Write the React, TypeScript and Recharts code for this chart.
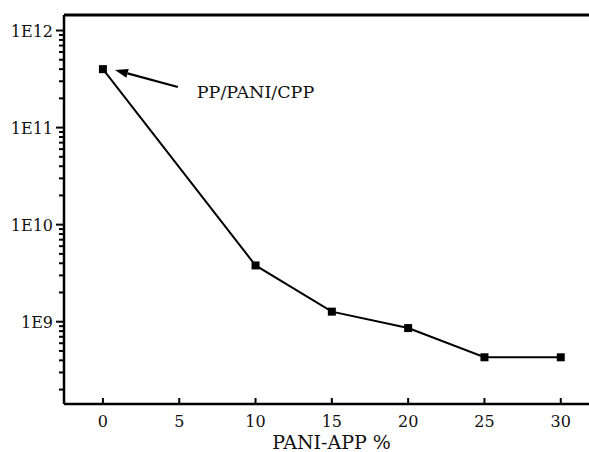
import React from 'react';
import {
  LineChart,
  Line,
  XAxis,
  YAxis,
  ReferenceLine,
} from 'recharts';

// PANI-APP content (%) vs. volume resistivity
const pani = [0, 10, 15, 20, 25, 30];
const resistivity = [4.0e11, 3.8e9, 1.27e9, 8.6e8, 4.3e8, 4.3e8];

const xTicks = [0, 5, 10, 15, 20, 25, 30];
const yMajor = [1e9, 1e10, 1e11, 1e12];
const yMajorLabels = ['1E9', '1E10', '1E11', '1E12'];
const yMinor = [8, 9, 10, 11].flatMap((p) => [2, 3, 4, 5, 6, 7, 8, 9].map((m) => m * 10 ** p));

const X_DOMAIN: [number, number] = [-2.55, 31.85];
const Y_DOMAIN: [number, number] = [1.42e8, 1.445e12];

// annotation arrow: tail near the label, head at the first point
const arrowTail = { x: 4.91, y: 2.62e11 };
const arrowHead = { x: 0.79, y: 3.92e11 };
const arrowText = 'PP/PANI/CPP';

const data = pani.map((x, i) => ({ x, r: resistivity[i] }));

const FONT = "'DejaVu Serif', serif";
const INK = '#111';
const serif = { fontFamily: FONT };

const YTick = (props: any) => {
  const { x, y, payload } = props;
  const idx = yMajor.indexOf(payload.value);
  const major = idx >= 0;
  return (
    <g>
      <line x1={x - (major ? 8 : 5)} y1={y} x2={x} y2={y} stroke="#000" strokeWidth={2} />
      {major && (
        <text x={x - 11} y={y} dy={6} textAnchor="end" fontSize={16} style={serif} fill={INK}>
          {yMajorLabels[idx]}
        </text>
      )}
    </g>
  );
};

const XTick = (props: any) => {
  const { x, y, payload } = props;
  return (
    <g>
      <line x1={x} y1={y} x2={x} y2={y - 6} stroke="#000" strokeWidth={2} />
      <text x={x} y={y + 23} textAnchor="middle" fontSize={16} style={serif} fill={INK}>
        {payload.value}
      </text>
    </g>
  );
};

const SquareDot = (props: any) => {
  const { cx, cy } = props;
  if (cx == null || cy == null) return null;
  return <rect x={cx - 4} y={cy - 4} width={8} height={8} fill="#000" />;
};

const Arrow = (props: any) => {
  const { x1, y1, x2, y2 } = props;
  const ang = Math.atan2(y2 - y1, x2 - x1);
  const len = 13;
  const hw = 4.5;
  const bx = x2 - len * Math.cos(ang);
  const by = y2 - len * Math.sin(ang);
  const px = -Math.sin(ang) * hw;
  const py = Math.cos(ang) * hw;
  return (
    <g>
      <line x1={x1} y1={y1} x2={bx} y2={by} stroke="#000" strokeWidth={2.2} />
      <polygon points={`${x2},${y2} ${bx + px},${by + py} ${bx - px},${by - py}`} fill="#000" />
      <text x={x1 + 19} y={y1 + 11} fontSize={17.5} style={serif} fill={INK}>
        {arrowText}
      </text>
    </g>
  );
};

export default function App() {
  return (
    <div style={{ position: 'absolute', left: 0, top: 0, background: '#fff', fontFamily: FONT }}>
      <LineChart
        width={589}
        height={452}
        data={data}
        margin={{ top: 15, right: 0, left: 0, bottom: 0 }}
      >
        <XAxis
          dataKey="x"
          type="number"
          domain={X_DOMAIN}
          ticks={xTicks}
          allowDataOverflow
          height={48}
          tickSize={0}
          tickMargin={0}
          tickLine={false}
          tick={<XTick />}
          axisLine={{ stroke: '#000', strokeWidth: 2.5 }}
          label={{
            value: 'PANI-APP %',
            position: 'insideBottom',
            offset: 3,
            dx: 5,
            fontSize: 19,
            style: serif,
            fill: INK,
          }}
        />
        <YAxis
          scale="log"
          domain={Y_DOMAIN}
          ticks={[...yMajor, ...yMinor]}
          allowDataOverflow
          width={64}
          tickSize={0}
          tickMargin={0}
          tickLine={false}
          tick={<YTick />}
          interval={0}
          axisLine={{ stroke: '#000', strokeWidth: 2.5 }}
        />
        <ReferenceLine y={Y_DOMAIN[1]} stroke="#000" strokeWidth={3} ifOverflow="visible" />
        <ReferenceLine
          segment={[arrowTail, arrowHead]}
          ifOverflow="visible"
          shape={<Arrow />}
        />
        <Line
          type="linear"
          dataKey="r"
          stroke="#000"
          strokeWidth={2}
          dot={<SquareDot />}
          activeDot={false}
          isAnimationActive={false}
        />
      </LineChart>
    </div>
  );
}
